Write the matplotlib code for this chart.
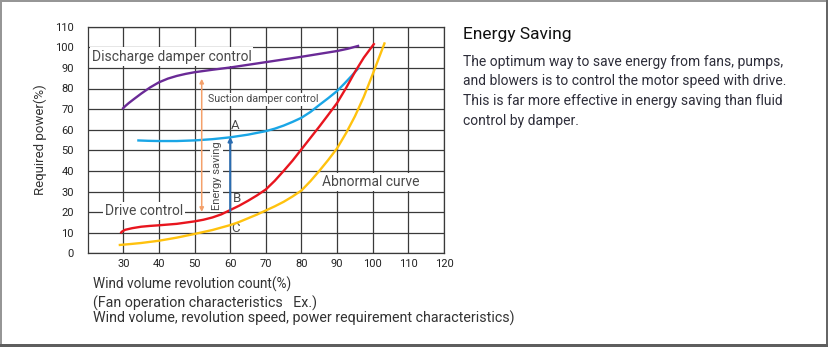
import matplotlib
matplotlib.use('Agg')
import matplotlib.pyplot as plt
from matplotlib.patches import Rectangle

plt.rcParams['font.family'] = ['Roboto', 'DejaVu Sans']

# ---------------- data ----------------
x_ticks = [30, 40, 50, 60, 70, 80, 90, 100, 110, 120]
y_ticks = [0, 10, 20, 30, 40, 50, 60, 70, 80, 90, 100, 110]

discharge_x = [29.7, 30.5, 31.5, 33, 35, 37.5, 40, 42.5, 45, 47.5, 50, 55, 60, 65, 70, 75, 80, 85, 90, 93, 96.2]
discharge_y = [70, 71.4, 72.9, 74.9, 77.5, 80.5, 83, 84.8, 86.1, 87.1, 87.9, 89.1, 90.2, 91.5, 92.8, 94.1,
               95.4, 96.8, 98.2, 99.3, 100.8]

suction_x = [33.9, 37, 40, 45, 50, 55, 60, 65, 70, 72.5, 75, 77.5, 80, 82.5, 85, 87.5, 90, 92, 94, 96.2]
suction_y = [54.8, 54.6, 54.5, 54.5, 54.8, 55.4, 56.3, 57.6, 59.3, 60.5, 62, 63.8, 65.8, 68.6, 72, 75.3,
             78.8, 82.3, 86, 90.3]

drive_x = [29.2, 29.6, 30.5, 32.5, 35, 37.5, 40, 45, 50, 52.5, 55, 57.5, 60, 62.5, 65, 67.5, 70, 72.5, 75,
           77.5, 80, 82.5, 85, 87.5, 90, 92.5, 95, 97.5, 100.5]
drive_y = [9.7, 10.5, 11.4, 12.2, 12.9, 13.3, 13.6, 14.3, 15.5, 16.3, 17.4, 18.9, 21, 23.1, 25.5, 28.1, 31,
           35.2, 40, 45, 50.5, 56, 61.5, 67.2, 73, 80.2, 88, 95, 102]

abnormal_x = [28.7, 32, 35, 40, 45, 50, 55, 60, 62.5, 65, 67.5, 70, 72.5, 75, 77.5, 80, 82.5, 85, 87.5, 90,
              92.5, 95, 97.5, 100, 103.4]
abnormal_y = [4, 4.5, 5, 6.1, 7.6, 9.4, 11.3, 13.7, 15.2, 17, 18.8, 20.8, 22.8, 25, 27.6, 30.5, 35, 40, 45.3,
              51, 58.3, 66.5, 76, 87, 102.4]

# energy-saving arrow (x, y_from, y_to) and B->A arrow
saving_arrow = (52, 20.1, 84.7)
ab_arrow = (60, 20.5, 56.5)

title = 'Energy Saving'
body_lines = [
    'The optimum way to save energy from fans, pumps,',
    'and blowers is to control the motor speed with drive.',
    'This is far more effective in energy saving than fluid',
    'control by damper.',
]
xlabel = 'Wind volume revolution count(%)'
ylabel = 'Required power(%)'
caption_lines = [
    '(Fan operation characteristics   Ex.)',
    'Wind volume, revolution speed, power requirement characteristics)',
]

# ---------------- figure ----------------
W, H = 829, 347
fig = plt.figure(figsize=(W / 100, H / 100), dpi=100)
fig.patch.set_facecolor('white')

def fx(px):
    return px / W

def fy(py):
    return 1 - py / H

ax = fig.add_axes([fx(87.7), fy(253.3), fx(444) - fx(87.7), fy(26.7) - fy(253.3)])
ax.set_xlim(20, 120)
ax.set_ylim(0, 110)
ax.set_xticks(x_ticks)
ax.set_yticks(y_ticks)
ax.set_axisbelow(True)
grid_col = '#3a3a3a'
ax.grid(True, color=grid_col, lw=0.9)
for s in ax.spines.values():
    s.set_color(grid_col)
    s.set_linewidth(0.9)
ax.tick_params(length=0, labelsize=8, colors='#222222')
ax.tick_params(axis='y', pad=10)
ax.tick_params(axis='x', pad=4)

lw = 1.7
kw = dict(lw=lw, zorder=3, solid_capstyle='butt', solid_joinstyle='round')
ax.plot(discharge_x, discharge_y, color='#6a2a96', **kw)
ax.plot(suction_x, suction_y, color='#1aa6e6', **kw)
ax.plot(drive_x, drive_y, color='#e8151e', **kw)
ax.plot(abnormal_x, abnormal_y, color='#ffc20e', **kw)

ax.annotate('', xy=(saving_arrow[0], saving_arrow[2]), xytext=(saving_arrow[0], saving_arrow[1]),
            arrowprops=dict(arrowstyle='<|-|>', color='#f4a06a', lw=1.1, mutation_scale=6,
                            shrinkA=0, shrinkB=0), zorder=3)
ax.annotate('', xy=(ab_arrow[0], ab_arrow[2]), xytext=(ab_arrow[0], ab_arrow[1]),
            arrowprops=dict(arrowstyle='-|>', color='#2a6cb0', lw=1.5, mutation_scale=6,
                            shrinkA=0, shrinkB=0), zorder=3)

txt_col = '#4a4a4a'
box = dict(boxstyle='square,pad=0.15', fc='white', ec='none')

ax.text(21.1, 95.5, 'Discharge damper control', fontsize=10, color=txt_col,
        ha='left', va='center', bbox=box, zorder=2.5)
ax.text(53.7, 74.8, 'Suction damper control', fontsize=7.7, color=txt_col,
        ha='left', va='center', bbox=box, zorder=2.5)
ax.text(56.2, 37.5, 'Energy saving', fontsize=8.0, color=txt_col, rotation=90,
        ha='center', va='center', bbox=box, zorder=2.5)
ax.text(24.9, 20.6, 'Drive control', fontsize=10, color=txt_col,
        ha='left', va='center', bbox=box, zorder=2.5)
ax.text(85.7, 34.5, 'Abnormal curve', fontsize=10, color=txt_col,
        ha='left', va='center', bbox=box, zorder=2.5)
ax.text(61.5, 62, 'A', fontsize=9.5, color=txt_col, ha='center', va='center', zorder=2.5)
ax.text(61.8, 26.6, 'B', fontsize=9.5, color=txt_col, ha='center', va='center', zorder=2.5)
ax.text(61.6, 12.1, 'C', fontsize=9.5, color=txt_col, ha='center', va='center', zorder=2.5)

# axis labels and captions
fig.text(fx(40), fy(140), ylabel, rotation=90, ha='center', va='center', fontsize=9.5, color='#333333')
fig.text(fx(92.7), fy(284), xlabel, ha='left', va='center', fontsize=9.8, color='#333333')
for line, py in zip(caption_lines, [303.5, 318.5]):
    fig.text(fx(92.7), fy(py), line, ha='left', va='center', fontsize=10.3, color='#333333')

# right-hand description
fig.text(fx(463), fy(35), title, ha='left', va='center', fontsize=12.5, color='#111111')
for line, py in zip(body_lines, [61.7, 81.5, 101, 121]):
    fig.text(fx(463), fy(py), line, ha='left', va='center', fontsize=10, color='#2e2e3a')

# outer frame
fig.add_artist(Rectangle((0, 1 - 2 / H), 1, 2 / H, transform=fig.transFigure, fc='#969696', ec='none'))
fig.add_artist(Rectangle((0, 0), 2 / W, 1, transform=fig.transFigure, fc='#969696', ec='none'))
fig.add_artist(Rectangle((1 - 3 / W, 0), 3 / W, 1, transform=fig.transFigure, fc='#666666', ec='none'))
fig.add_artist(Rectangle((0, 0), 1, 3 / H, transform=fig.transFigure, fc='#5e5e5e', ec='none'))

fig.savefig('out.png', dpi=100)
